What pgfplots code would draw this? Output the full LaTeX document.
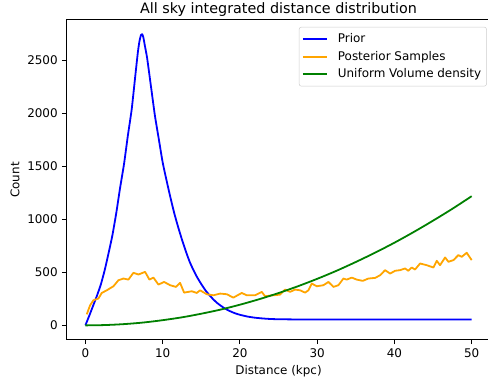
\documentclass[border=0pt]{standalone}
\usepackage{fontspec}
\setmainfont{DejaVu Sans}
\usepackage{pgfplots}
\pgfplotsset{compat=1.18}
\usetikzlibrary{calc}

\definecolor{mplblue}{RGB}{0,0,255}
\definecolor{mplorange}{RGB}{255,165,0}
\definecolor{mplgreen}{RGB}{0,128,0}

\begin{document}
\begin{tikzpicture}
\begin{axis}[
  name=ax,
  scale only axis,
  width=355.8pt, height=267.9pt,
  xmin=-2.5, xmax=52.5,
  ymin=-137, ymax=2882,
  xtick={0,10,20,30,40,50},
  ytick={0,500,1000,1500,2000,2500},
  tick align=outside,
  major tick length=3.5pt,
  tick style={black, line width=0.8pt},
  axis line style={line width=0.8pt},
  xtick pos=bottom, ytick pos=left,
  /pgf/number format/assume math mode=true,
  /pgf/number format/1000 sep={},
  tick label style={font=\fontsize{10}{12}\selectfont},
  xticklabel style={yshift=-0.5pt},
  title={All sky integrated distance distribution},
  title style={font=\fontsize{12}{14}\selectfont, yshift=-7pt},
  xlabel={Distance (kpc)},
  ylabel={Count},
  label style={font=\fontsize{10}{12}\selectfont},
  xlabel style={yshift=0.5pt},
  ylabel style={yshift=-0.5pt},
  legend style={
    at={(1,1)}, anchor=north east, xshift=-3.5pt, yshift=-5.8pt,
    draw=black!20, rounded corners=2pt, fill=white, fill opacity=0.8, text opacity=1,
    font=\fontsize{10}{12}\selectfont,
    inner xsep=2.5pt, inner ysep=3.5pt,
    row sep=1.6pt, column sep=6.5pt,
    cells={anchor=west, inner sep=0pt, text height=7.6pt, text depth=2.4pt},
  },
  legend image code/.code={\draw[#1] (0pt,0pt) -- (20pt,0pt);},
  every axis plot/.append style={line width=1.5pt, line join=round},
]

% Prior distance model
\addplot[mplblue, smooth, tension=0.3] coordinates {
  (0,0) (0.5,90) (1.0,185) (1.5,280) (2.0,385) (2.5,520) (3.0,680)
  (3.5,850) (4.0,1060) (4.5,1300) (5.0,1520) (5.5,1790) (6.0,2040)
  (6.5,2380) (6.8,2580) (7.0,2680) (7.2,2740) (7.35,2748) (7.5,2720)
  (7.7,2640) (8.0,2520) (8.5,2250) (9.0,1980) (9.5,1760) (10.0,1540)
  (10.5,1370) (11.0,1210) (11.5,1060) (12.0,930) (12.5,810) (13.0,700)
  (13.5,600) (14.0,520) (14.5,450) (15.0,390) (15.5,335) (16.0,290)
  (16.5,250) (17.0,215) (17.5,187) (18.0,162) (18.5,142) (19.0,125)
  (19.5,111) (20.0,100) (21,83) (22,72) (23,65) (24,60) (25,58)
  (26,57) (28,55.5) (30,55) (35,55) (40,55) (45,55) (50,55)
};
\addlegendentry{Prior}

% Posterior samples
\addplot[mplorange] coordinates {
  (0.18,104) (0.61,189) (1.04,237) (1.69,253) (2.12,306) (2.77,331)
  (3.63,369) (4.28,426) (4.93,442) (5.57,432) (6.22,496) (6.87,480)
  (7.73,505) (8.29,432) (8.81,451) (9.46,385) (10.19,410) (10.97,379)
  (11.74,363) (12.26,401) (12.78,309) (13.77,322) (14.42,306) (14.85,331)
  (15.71,294) (16.57,284) (17.44,300) (18.30,294) (19.16,262) (20.24,306)
  (20.89,284) (21.97,284) (22.83,316) (23.26,275) (24.34,284) (25.20,290)
  (25.85,338) (26.50,316) (27.14,338) (27.79,331) (28.44,309) (28.87,331)
  (29.30,395) (29.95,369) (30.81,379) (31.46,410) (32.11,363) (32.75,379)
  (33.40,442) (33.83,432) (34.48,451) (35.12,432) (35.90,420) (36.63,442)
  (37.50,448) (38.15,473) (38.79,521) (39.44,489) (40.09,515) (40.73,521)
  (41.38,537) (41.81,515) (42.24,546) (42.67,527) (43.32,584) (44.18,568)
  (45.05,546) (45.48,609) (45.91,568) (46.56,641) (46.99,600) (47.64,616)
  (48.28,663) (48.71,647) (49.36,685) (50.0,616)
};
\addlegendentry{Posterior Samples}

% Uniform volume density
\addplot[mplgreen, smooth] coordinates {
  (0,0) (2.5,3) (5,12) (7.5,27) (10,49) (12.5,76) (15,110) (17.5,149)
  (20,195) (22.5,247) (25,305) (27.5,369) (30,439) (32.5,515) (35,598)
  (37.5,686) (40,780) (42.5,881) (45,988) (47.5,1100) (50,1219)
};
\addlegendentry{Uniform Volume density}
\end{axis}
\pgfresetboundingbox
\useasboundingbox ($(ax.south west)+(-55.3pt,-35.2pt)$) rectangle ($(ax.north east)+(-2.5pt,16.7pt)$);
\end{tikzpicture}
\end{document}
